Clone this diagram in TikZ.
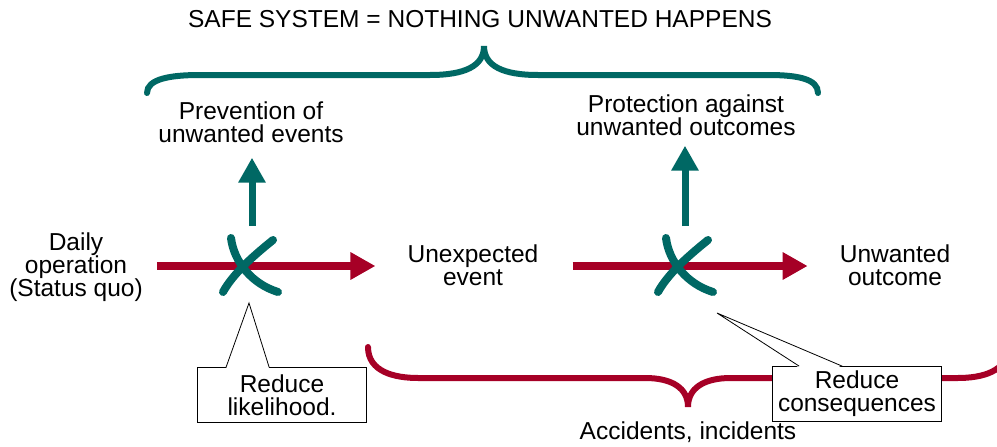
\documentclass[tikz,border=0pt]{standalone}
\usepackage{fontspec}
\setmainfont{Liberation Sans}
\usepackage{xcolor}
\usepackage{tikz}
\usetikzlibrary{positioning, arrows.meta}

\definecolor{safeteal}{RGB}{0,104,100}
\definecolor{safered}{RGB}{166,0,38}

\begin{document}
\begin{tikzpicture}[x=1pt, y=-1pt, >={Triangle[length=25pt,width=26pt]},
    every node/.style={font=\fontsize{24.5}{23}\selectfont, align=center, inner sep=0pt},
    flow/.style={->, safered, line width=8pt},
    barrier/.style={->, safeteal, line width=7pt},
    brace/.style={line width=6pt, line cap=round},
    note/.style={draw, fill=white, line width=0.8pt, minimum width=169pt, minimum height=55pt},
    cutmark/.pic={
        \draw[safeteal, line width=8pt, line cap=round]
            (-18,-28) .. controls (-15,-4) and (3,18) .. (29,26)
            (24,-26) .. controls (8,-13) and (-15,6) .. (-26,26);
    }]
            \useasboundingbox (0,0) rectangle (997,447);

            % Nodes
            \node (title) at (480,19) {SAFE SYSTEM = NOTHING UNWANTED HAPPENS};
            \node (prevention) at (251,122) {Prevention of\\unwanted events};
            \node (protection) at (686,115) {Protection against\\unwanted outcomes};
            \node (daily) at (76,267) {Daily\\operation\\(Status quo)};
            \node (unexpected) at (473,265) {Unexpected\\event};
            \node (outcome) at (895,265) {Unwanted\\outcome};
            \node (accidents) at (688,432) {Accidents, incidents};
            \coordinate (cut1) at (249,266);
            \coordinate (cut2) at (684,266);

            % Braces
            \draw[brace, safeteal] (147,93) .. controls (147,79) and (170,75) .. (200,75) -- (430,75)
                .. controls (465,75) and (484,66) .. (484,46)
                .. controls (484,66) and (503,75) .. (538,75) -- (768,75)
                .. controls (798,75) and (818,79) .. (818,93);
            \begin{scope}
                \clip (0,0) rectangle (997,447);
                \draw[brace, safered] (368,347) .. controls (368,372) and (395,378) .. (418,378) -- (645,378)
                    .. controls (672,378) and (688,388) .. (688,407)
                    .. controls (688,388) and (704,378) .. (731,378) -- (958,378)
                    .. controls (981,378) and (1008,372) .. (1008,347);
            \end{scope}

            % Arrows
            \draw[flow, shorten <=14pt, shorten >=32pt] (daily.east |- cut1) -- (unexpected.west |- cut1);
            \draw[flow, shorten <=34pt, shorten >=32pt] (unexpected.east |- cut2) -- (outcome.west |- cut2);
            \draw[barrier, shorten <=40pt, shorten >=15pt] ([xshift=3pt]cut1) -- ([xshift=3pt]cut1 |- prevention.south);
            \draw[barrier, shorten <=40pt, shorten >=10pt] ([xshift=1pt]cut2) -- ([xshift=1pt]cut2 |- protection.south);

            % Barriers
            \pic at (cut1) {cutmark};
            \pic at (cut2) {cutmark};

            % Callouts
            \node[note] (likely) at (282,395) {Reduce\\likelihood.};
            \node[note] (conseq) at (857,394) {Reduce\\consequences};
            \coordinate (tip1) at (249,303);
            \coordinate (tip2) at (717,313);
            \fill[white] ([xshift=29pt,yshift=-1.5pt]likely.north west) -- (tip1) -- ([xshift=72pt,yshift=-1.5pt]likely.north west) -- cycle;
            \draw[line width=0.8pt] ([xshift=29pt]likely.north west) -- (tip1) -- ([xshift=72pt]likely.north west);
            \fill[white] ([xshift=27pt,yshift=-1.5pt]conseq.north west) -- (tip2) -- ([xshift=70pt,yshift=-1.5pt]conseq.north west) -- cycle;
            \draw[line width=0.8pt] ([xshift=27pt]conseq.north west) -- (tip2) -- ([xshift=70pt]conseq.north west);
\end{tikzpicture}
\end{document}
